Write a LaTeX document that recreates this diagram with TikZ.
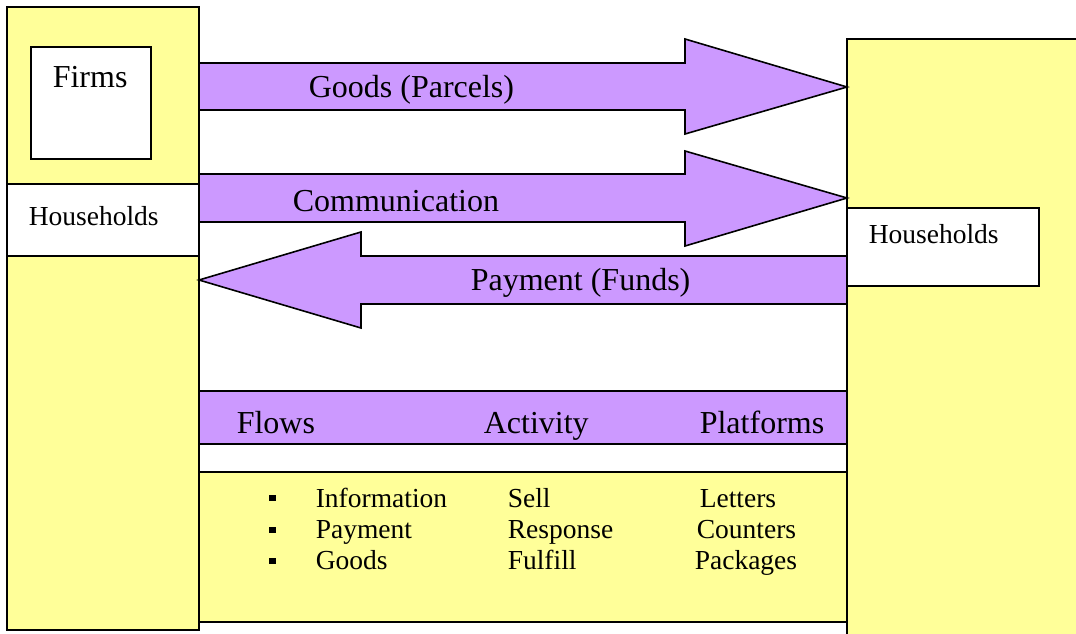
\documentclass[tikz,border=0pt]{standalone}
\usepackage{fontspec}
\setmainfont{Liberation Serif}
\definecolor{paneyellow}{RGB}{255,255,153}
\definecolor{flowpurple}{RGB}{204,153,255}

\begin{document}
\begin{tikzpicture}[x=1pt,y=-1pt,line width=1.6pt,
  pane/.style={fill=paneyellow,draw=black},
  flow/.style={fill=flowpurple,draw=black,line join=miter},
  bigtxt/.style={font=\fontsize{32}{36}\selectfont,inner sep=0pt,anchor=base west},
  smalltxt/.style={font=\fontsize{27.5}{31}\selectfont,inner sep=0pt,anchor=base west},
  bullet/.style={fill=black,minimum width=7pt,minimum height=6pt,inner sep=0pt}]
\useasboundingbox (0,0) rectangle (1076,634);
% left column
\draw[pane] (7,7) rectangle (199,630);
\draw[fill=white] (7,184) rectangle (199,256);
\draw[fill=white] (31,47) rectangle (151,159);
% right column
\fill[paneyellow] (847,39) rectangle (1076,634);
\draw (1076,39) -- (847,39) -- (847,634);
\draw[fill=white] (847,208) rectangle (1039,286);
% flow arrows
\draw[flow] (199,63) -- (685,63) -- (685,39) -- (847,87) -- (685,134) -- (685,110) -- (199,110) -- cycle;
\draw[flow] (199,174) -- (685,174) -- (685,151) -- (847,198) -- (685,246) -- (685,222) -- (199,222) -- cycle;
\draw[flow] (847,256) -- (361,256) -- (361,232) -- (199,280) -- (361,328) -- (361,304) -- (847,304) -- cycle;
% table
\draw[flow] (199,391) rectangle (847,444);
\draw[pane] (199,472) rectangle (847,622);

\node[bigtxt] (firms) at (52,88) {Firms};
\node[smalltxt] (hhleft) at (28,225) {Households};
\node[smalltxt] (hhright) at (868,243) {Households};
\node[bigtxt] (goods) at (308,97) {Goods (Parcels)};
\node[bigtxt] (comm) at (292,211) {Communication};
\node[bigtxt] (pay) at (470,290) {Payment (Funds)};

\node[bigtxt] (flows) at (236,433) {Flows};
\node[bigtxt] (activity) at (483,433) {Activity};
\node[bigtxt] (platforms) at (699,433) {Platforms};

\node[bullet] (b1) at (272,498) {};
\node[bullet] (b2) at (272,529.5) {};
\node[bullet] (b3) at (272,561) {};
\node[smalltxt] (info) at (315,507) {Information};
\node[smalltxt] (payment) at (315,538) {Payment};
\node[smalltxt] (gds) at (315,569) {Goods};
\node[smalltxt] (sell) at (507,507) {Sell};
\node[smalltxt] (resp) at (507,538) {Response};
\node[smalltxt] (fulfill) at (507,569) {Fulfill};
\node[smalltxt] (letters) at (699,507) {Letters};
\node[smalltxt] (counters) at (696,538) {Counters};
\node[smalltxt] (packages) at (694,569) {Packages};
\end{tikzpicture}
\end{document}
